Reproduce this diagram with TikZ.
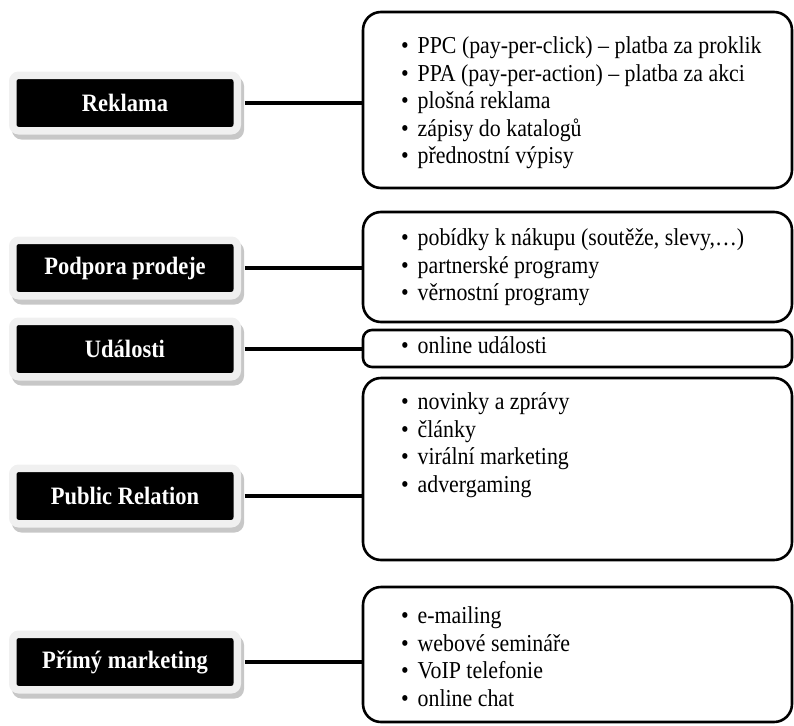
\documentclass[tikz,border=0pt]{standalone}
\usepackage{fontspec}
\setmainfont[FakeStretch=0.9]{Liberation Serif}
\usepackage{tikz}
\usetikzlibrary{positioning}
\tikzstyle{rubrika}=[rectangle, rounded corners=6pt, fill=black, draw=black!6, line width=7.5pt, minimum width=224.5pt, minimum height=55.5pt, text=white, font=\fontsize{25}{28}\selectfont\bfseries, preaction={fill=black!22, draw=black!22, line width=7.5pt, transform canvas={xshift=3pt, yshift=-5pt}}]
\tikzstyle{seznam}=[rectangle, rounded corners=18pt, draw=black, line width=2.6pt, fill=white, inner sep=0pt, font=\fontsize{24.3}{27.5}\selectfont]
\tikzstyle{spoj}=[line width=3.2pt, shorten <=3.75pt]
\newcommand{\polozky}[3]{\parbox[c][#1][t]{429pt}{\raggedright\leftskip=38pt\vspace*{#2}#3}}
\newcommand{\odr}{\textbullet\hspace{9pt}}

\begin{document}
\begin{tikzpicture}[x=1pt, y=-1pt]
        \useasboundingbox (0,0) rectangle (794,725);

        % rubriky vlevo
        \node[rubrika] (reklama) at (125,103) {Reklama};
        \node[rubrika] (podpora) at (125,268) {Podpora prodeje};
        \node[rubrika] (udalosti) at (125,349) {Události};
        \node[rubrika] (pr) at (125,496) {Public Relation};
        \node[rubrika] (primy) at (125,662) {Přímý marketing};

        % seznamy vpravo
        \node[seznam] (reklamaS) at (577.5,100) {\polozky{176pt}{25pt}{%
            \odr PPC (pay-per-click) – platba za proklik\par
            \odr PPA (pay-per-action) – platba za akci\par
            \odr plošná reklama\par
            \odr zápisy do katalogů\par
            \odr přednostní výpisy}};
        \node[seznam] (podporaS) at (577.5,267) {\polozky{110pt}{17pt}{%
            \odr pobídky k nákupu (soutěže, slevy,…)\par
            \odr partnerské programy\par
            \odr věrnostní programy}};
        \node[seznam, rounded corners=9pt] (udalostiS) at (577.5,348.5) {\polozky{37pt}{7pt}{%
            \odr online události}};
        \node[seznam] (prS) at (577.5,469) {\polozky{182pt}{15pt}{%
            \odr novinky a zprávy\par
            \odr články\par
            \odr virální marketing\par
            \odr advergaming}};
        \node[seznam] (primyS) at (577.5,654.5) {\polozky{135pt}{20pt}{%
            \odr e-mailing\par
            \odr webové semináře\par
            \odr VoIP telefonie\par
            \odr online chat}};

        % spojnice
        \draw[spoj] (reklama.east) -- (reklama.east -| reklamaS.west);
        \draw[spoj] (podpora.east) -- (podpora.east -| podporaS.west);
        \draw[spoj] (udalosti.east) -- (udalosti.east -| udalostiS.west);
        \draw[spoj] (pr.east) -- (pr.east -| prS.west);
        \draw[spoj] (primy.east) -- (primy.east -| primyS.west);
    \end{tikzpicture}
\end{document}
